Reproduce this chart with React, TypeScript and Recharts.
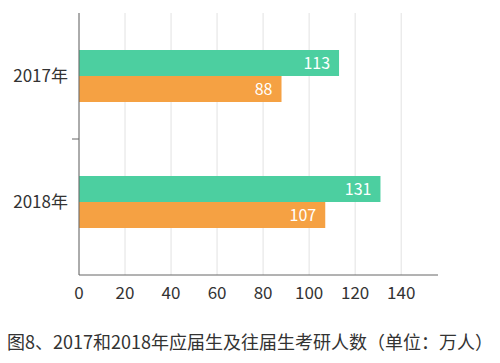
import React from "react";
import { BarChart, Bar, XAxis, YAxis, CartesianGrid, LabelList } from "recharts";

const categories = ["2017年", "2018年"];
const freshGrads = [113, 131];
const pastGrads = [88, 107];
const xTicks = [0, 20, 40, 60, 80, 100, 120, 140];
const X_MAX = 156;
const caption = "图8、2017和2018年应届生及往届生考研人数（单位：万人）";

const data = categories.map((c, i) => ({ year: c, fresh: freshGrads[i], past: pastGrads[i] }));

const FONT = '"Noto Sans CJK SC", "Noto Sans", sans-serif';
const HALF_BAND = 63;

const YTick = (props: any) => {
  const { x, y, payload, index } = props;
  return (
    <g>
      <text x={x} y={y} dy="0.35em" textAnchor="end" fontSize={17} fill="#333" fontFamily={FONT}>
        {payload.value}
      </text>
      {index > 0 ? (
        <line x1={x + 4} x2={x + 11} y1={y - HALF_BAND} y2={y - HALF_BAND} stroke="#666" strokeWidth={1} />
      ) : null}
    </g>
  );
};

const gridX = (p: any) => {
  const off = p && p.offset ? p.offset : { left: 79, width: 359 };
  return xTicks.map((t) => off.left + (t / X_MAX) * off.width);
};

export default function App() {
  return (
    <div style={{ position: "absolute", left: 0, top: 0, width: 500, height: 363, background: "#fff" }}>
      <BarChart
        width={500}
        height={363}
        data={data}
        layout="vertical"
        margin={{ top: 13, right: 62, bottom: 58, left: 0 }}
        barGap={0}
        barSize={26}
      >
        <CartesianGrid horizontal={false} vertical={true} stroke="#e2e2e2" verticalCoordinatesGenerator={gridX} />
        <XAxis
          type="number"
          domain={[0, X_MAX]}
          ticks={xTicks}
          interval={0}
          tickLine={false}
          axisLine={{ stroke: "#666" }}
          tick={{ fontSize: 17, fill: "#333", fontFamily: FONT }}
          tickMargin={6}
          height={30}
        />
        <YAxis
          type="category"
          dataKey="year"
          width={79}
          tickLine={false}
          axisLine={{ stroke: "#666" }}
          tick={<YTick />}
          tickMargin={5}
          padding={{ top: 0, bottom: 10 }}
        />
        <Bar dataKey="fresh" fill="#4CCFA0" isAnimationActive={false}>
          <LabelList dataKey="fresh" position="insideRight" offset={9} fill="#fff" fontSize={16} fontFamily={FONT} />
        </Bar>
        <Bar dataKey="past" fill="#F5A143" isAnimationActive={false}>
          <LabelList dataKey="past" position="insideRight" offset={9} fill="#fff" fontSize={16} fontFamily={FONT} />
        </Bar>
      </BarChart>
      <div
        style={{
          position: "absolute",
          left: 0,
          top: 328,
          width: 500,
          textAlign: "center",
          fontSize: 18,
          color: "#333",
          fontFamily: FONT,
          whiteSpace: "nowrap",
          lineHeight: "26px",
        }}
      >
        {caption}
      </div>
    </div>
  );
}
